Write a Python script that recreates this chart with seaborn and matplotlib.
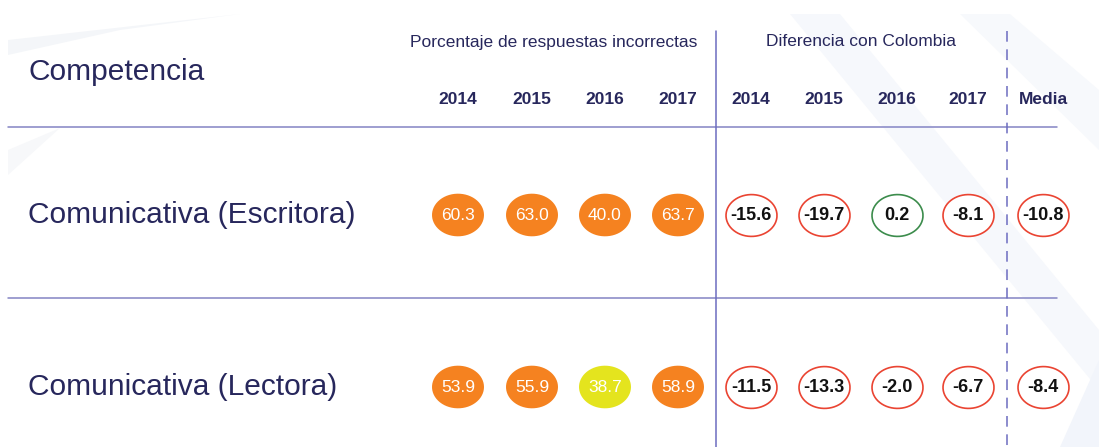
import numpy as np
import pandas as pd
import seaborn as sns
import matplotlib.pyplot as plt
from matplotlib.path import Path

# data
competencias = ['Comunicativa (Escritora)', 'Comunicativa (Lectora)']
anios = ['2014', '2015', '2016', '2017']
pct_escritora = [60.3, 63.0, 40.0, 63.7]
pct_lectora = [53.9, 55.9, 38.7, 58.9]
nivel_escritora = ['alto', 'alto', 'alto', 'alto']
nivel_lectora = ['alto', 'alto', 'medio', 'alto']
dif_escritora = [-15.6, -19.7, 0.2, -8.1]
dif_lectora = [-11.5, -13.3, -2.0, -6.7]
media_escritora = -10.8
media_lectora = -8.4

navy = '#27275c'
line_c = '#8484c4'
nivel_pal = {'alto': '#f58220', 'medio': '#e4e41e'}

sns.set_theme(style='white')
plt.rcParams['font.family'] = ['Liberation Sans', 'DejaVu Sans']

fig = plt.figure(figsize=(10.99, 4.47), dpi=100)
ax = fig.add_axes([0, 0, 1, 1])
ax.set_xlim(0, 1099)
ax.set_ylim(447, 0)
ax.axis('off')

# faint background swooshes
ax.fill([8, 240, 120, 8], [40, 14, 30, 55], color='#f4f6f9', zorder=0, lw=0)
ax.fill([8, 60, 8], [150, 128, 175], color='#f7f8fa', zorder=0, lw=0)
ax.fill([790, 840, 1099, 1099], [14, 14, 330, 390], color='#f6f8fc', zorder=0, lw=0)
ax.fill([960, 1010, 1099, 1099], [14, 14, 90, 150], color='#f7f9fc', zorder=0, lw=0)
ax.fill([1060, 1099, 1099], [447, 360, 447], color='#f2f5fb', zorder=0, lw=0)

# layout
col_x = [458, 532, 605, 678, 751, 824, 897, 968, 1043]
row_y = [215, 387]

# headers
ax.text(28, 72, 'Competencia', fontsize=21.5, color=navy, va='center', ha='left')
ax.text(554, 42, 'Porcentaje de respuestas incorrectas', fontsize=12.5,
        color=navy, ha='center', va='center')
ax.text(861, 42, 'Diferencia con Colombia', fontsize=12.5,
        color=navy, ha='center', va='center')
for x, lab in zip(col_x, anios + anios + ['Media']):
    ax.text(x, 99, lab, fontsize=12.5, fontweight='bold', color=navy,
            ha='center', va='center')

# grid lines
ax.plot([8, 1057], [127, 127], color=line_c, lw=1.1)
ax.plot([8, 1057], [298, 298], color=line_c, lw=1.1)
ax.plot([716, 716], [31, 447], color='#6c6cc0', lw=1.1)
ax.plot([1007, 1007], [31, 447], color='#6c6cc0', lw=1.1, dashes=(7, 5))

for y, lab in zip(row_y, competencias):
    ax.text(28, y, lab, fontsize=21.5, color=navy, va='center', ha='left')

# ellipse marker
t = np.linspace(0, 2 * np.pi, 60)
ell = Path(np.column_stack([np.cos(t), 0.82 * np.sin(t)]))
msize = (52 * 0.72) ** 2

pct = pd.DataFrame({
    'x': col_x[:4] * 2,
    'y': [row_y[0]] * 4 + [row_y[1]] * 4,
    'valor': pct_escritora + pct_lectora,
    'nivel': nivel_escritora + nivel_lectora,
})
sns.scatterplot(data=pct, x='x', y='y', hue='nivel', palette=nivel_pal,
                marker=ell, s=msize, linewidth=0, legend=False, ax=ax, zorder=3)
for _, r in pct.iterrows():
    ax.text(r['x'], r['y'], f"{r['valor']:.1f}", color='white', fontsize=12.5,
            ha='center', va='center', zorder=4)

dif = pd.DataFrame({
    'x': col_x[4:] * 2,
    'y': [row_y[0]] * 5 + [row_y[1]] * 5,
    'valor': dif_escritora + [media_escritora] + dif_lectora + [media_lectora],
})
dif['signo'] = np.where(dif['valor'] >= 0, '#3c8c4c', '#ea4432')
for col, g in dif.groupby('signo'):
    sns.scatterplot(data=g, x='x', y='y', marker=ell, s=(51 * 0.72) ** 2,
                    color='white', edgecolor=col, linewidth=1.2,
                    legend=False, ax=ax, zorder=3)
for _, r in dif.iterrows():
    ax.text(r['x'], r['y'], f"{r['valor']:.1f}", color='#111111', fontsize=13,
            fontweight='bold', ha='center', va='center', zorder=4)

ax.set_xlim(0, 1099)
ax.set_ylim(447, 0)
fig.savefig('out.png', dpi=100, facecolor='white')
